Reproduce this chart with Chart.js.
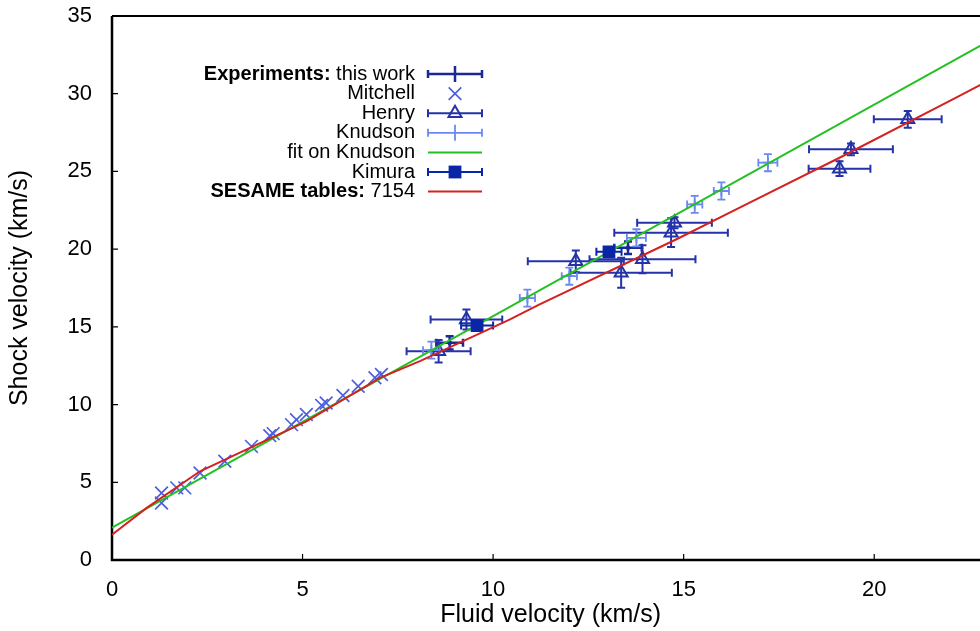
<!DOCTYPE html>
<html><head><meta charset="utf-8">
<script src="https://cdn.jsdelivr.net/npm/chart.js@4.4.1/dist/chart.umd.min.js"></script>
<style>
html,body{margin:0;padding:0;overflow:hidden;background:#fff;}
#wrap{position:relative;width:1000px;height:631px;}
</style></head><body>
<div id="wrap"><canvas id="c" width="1000" height="631"></canvas></div>
<script>
// ---- tick labels ----
const xTicks = [0, 5, 10, 15, 20];
const yTicks = [0, 5, 10, 15, 20, 25, 30, 35];
const X_MIN = 0, X_MAX = 23.02, Y_MIN = 0, Y_MAX = 35;

// ---- Experiments: this work ----
const thisWorkX = [8.86, 13.54];
const thisWorkY = [13.97, 20.09];
const thisWorkXErr = [0.35, 0.36];
const thisWorkYErr = [0.43, 0.40];

// ---- Mitchell ----
const mitchellX = [1.30, 1.30, 1.70, 1.91, 2.31, 2.96, 3.66, 4.14, 4.23, 4.71, 4.84, 5.10, 5.50, 5.62, 6.06, 6.46, 6.90, 7.07];
const mitchellY = [4.31, 3.67, 4.64, 4.64, 5.60, 6.35, 7.31, 8.00, 8.13, 8.71, 9.03, 9.36, 9.95, 10.10, 10.58, 11.18, 11.72, 11.93];

// ---- Henry ----
const henryX = [8.57, 9.30, 12.17, 13.36, 13.92, 14.67, 14.76, 19.09, 19.39, 20.88];
const henryY = [13.43, 15.47, 19.22, 18.48, 19.35, 21.06, 21.70, 25.18, 26.42, 28.35];
const henryXErr = [0.84, 0.94, 1.26, 1.33, 1.39, 1.49, 0.98, 0.81, 1.10, 0.89];
const henryYErr = [0.73, 0.64, 0.70, 0.97, 0.90, 0.92, 0.35, 0.47, 0.38, 0.54];

// ---- Knudson ----
const knudsonX = [8.38, 10.90, 12.00, 13.76, 15.29, 15.99, 17.21];
const knudsonY = [13.50, 16.85, 18.26, 20.73, 22.88, 23.74, 25.56];
const knudsonXErr = [0.22, 0.20, 0.20, 0.25, 0.20, 0.20, 0.25];
const knudsonYErr = [0.55, 0.55, 0.55, 0.55, 0.55, 0.55, 0.55];

// ---- fit on Knudson ----
const fitX = [0, 23.28];
const fitY = [2.08, 33.76];

// ---- Kimura ----
const kimuraX = [9.58, 13.04];
const kimuraY = [15.08, 19.83];
const kimuraXErr = [0.42, 0.33];
const kimuraYErr = [0.25, 0.25];

// ---- SESAME tables: 7154 ----
const sesameX = [0, 0.91, 2.31, 5.10, 7.03, 8.08, 10.43, 11.22, 14.80, 16.47, 19.09, 22.06, 23.28];
const sesameY = [1.63, 3.35, 5.71, 8.92, 11.72, 12.79, 15.47, 16.44, 20.62, 22.67, 25.88, 29.64, 31.20];

const FONT = '"Liberation Sans", Arial, Helvetica, sans-serif';
const COL = {
  work: '#1c2896', mitchell: '#4d5fe0', henry: '#2633a8', knudson: '#6b88f2',
  fit: '#22c022', kimura: '#0a26a6', sesame: '#d42222'
};

function pts(xs, ys) { return xs.map((x, i) => ({ x: x, y: ys[i] })); }

const datasets = [
  { label: 'Experiments: this work', data: pts(thisWorkX, thisWorkY), xErr: thisWorkXErr, yErr: thisWorkYErr,
    errColor: COL.work, errWidth: 2.5, kind: 'err',
    showLine: false, pointStyle: 'circle', pointRadius: 2, borderColor: COL.work, backgroundColor: COL.work, order: 7 },
  { label: 'Mitchell', data: pts(mitchellX, mitchellY), kind: 'x',
    showLine: false, pointStyle: 'crossRot', pointRadius: 9, pointBorderWidth: 1.7, borderColor: COL.mitchell, backgroundColor: COL.mitchell, order: 6 },
  { label: 'Henry', data: pts(henryX, henryY), xErr: henryXErr, yErr: henryYErr, errColor: COL.henry, errWidth: 2, kind: 'tri',
    showLine: false, pointStyle: 'triangle', pointRadius: 7.5, pointBorderWidth: 2, borderColor: COL.henry, backgroundColor: 'rgba(0,0,0,0)', order: 5 },
  { label: 'Knudson', data: pts(knudsonX, knudsonY), xErr: knudsonXErr, yErr: knudsonYErr, errColor: COL.knudson, errWidth: 1.8, kind: 'plus',
    showLine: false, pointStyle: 'cross', pointRadius: 5, pointBorderWidth: 1.8, borderColor: COL.knudson, backgroundColor: COL.knudson, order: 4 },
  { label: 'fit on Knudson', data: pts(fitX, fitY), kind: 'line',
    showLine: true, pointRadius: 0, borderWidth: 2, borderColor: COL.fit, backgroundColor: COL.fit, order: 3 },
  { label: 'Kimura', data: pts(kimuraX, kimuraY), xErr: kimuraXErr, yErr: kimuraYErr, errColor: COL.kimura, errWidth: 2, kind: 'sq',
    showLine: false, pointStyle: 'rect', pointRadius: 9, pointBorderWidth: 0, borderColor: COL.kimura, backgroundColor: COL.kimura, order: 2 },
  { label: 'SESAME tables: 7154', data: pts(sesameX, sesameY), kind: 'line',
    showLine: true, pointRadius: 0, borderWidth: 2, borderColor: COL.sesame, backgroundColor: COL.sesame, order: 1 }
];

const CAP = 4;
function drawErr(ctx, px, py, x0, x1, y0, y1, color, w) {
  ctx.save();
  ctx.strokeStyle = color; ctx.lineWidth = w; ctx.lineCap = 'butt';
  ctx.beginPath();
  ctx.moveTo(x0, py); ctx.lineTo(x1, py);
  ctx.moveTo(x0, py - CAP); ctx.lineTo(x0, py + CAP);
  ctx.moveTo(x1, py - CAP); ctx.lineTo(x1, py + CAP);
  ctx.moveTo(px, y0); ctx.lineTo(px, y1);
  ctx.moveTo(px - CAP, y0); ctx.lineTo(px + CAP, y0);
  ctx.moveTo(px - CAP, y1); ctx.lineTo(px + CAP, y1);
  ctx.stroke();
  ctx.restore();
}

const custom = {
  id: 'custom',
  beforeDatasetsDraw(chart) {
    const { ctx, chartArea: a, scales: { x, y } } = chart;
    ctx.save();
    ctx.strokeStyle = '#000';
    ctx.lineWidth = 2.5;
    ctx.beginPath();
    ctx.moveTo(a.left, a.top); ctx.lineTo(a.left, a.bottom); ctx.lineTo(a.right + 20, a.bottom);
    ctx.stroke();
    ctx.lineWidth = 2;
    ctx.beginPath();
    ctx.moveTo(a.left, a.top); ctx.lineTo(a.right + 20, a.top);
    ctx.stroke();
    ctx.lineWidth = 1.2;
    ctx.beginPath();
    yTicks.forEach(v => {
      const p = y.getPixelForValue(v);
      if (v > Y_MIN && v < Y_MAX) { ctx.moveTo(a.left, p); ctx.lineTo(a.left + 6, p); }
    });
    xTicks.forEach(v => {
      const p = x.getPixelForValue(v);
      if (v > X_MIN) { ctx.moveTo(p, a.bottom); ctx.lineTo(p, a.bottom - 6); }
    });
    ctx.stroke();
    ctx.restore();
  },
  beforeDatasetDraw(chart, args) {
    const ds = chart.data.datasets[args.index];
    if (!ds.xErr) return;
    const { ctx, scales: { x, y } } = chart;
    ds.data.forEach((d, i) => {
      const px = x.getPixelForValue(d.x), py = y.getPixelForValue(d.y);
      drawErr(ctx, px, py,
        x.getPixelForValue(d.x - ds.xErr[i]), x.getPixelForValue(d.x + ds.xErr[i]),
        y.getPixelForValue(d.y - ds.yErr[i]), y.getPixelForValue(d.y + ds.yErr[i]),
        ds.errColor, ds.errWidth);
    });
  },
  afterDraw(chart) {
    const ctx = chart.ctx;
    const right = 415, s0 = 428, s1 = 482, sc = 455, top = 74, step = 19.6;
    ctx.save();
    ctx.textBaseline = 'middle';
    ctx.textAlign = 'right';
    chart.data.datasets.forEach((ds, i) => {
      const yy = top + i * step;
      const idx = ds.label.indexOf(': ');
      let bold = '', norm = ds.label;
      if (idx >= 0) { bold = ds.label.slice(0, idx + 1); norm = ds.label.slice(idx + 1); }
      ctx.fillStyle = '#000';
      ctx.font = '20px ' + FONT;
      ctx.fillText(norm, right, yy);
      const w = ctx.measureText(norm).width;
      if (bold) { ctx.font = 'bold 20px ' + FONT; ctx.fillText(bold, right - w, yy); }
      const c = ds.errColor || ds.borderColor;
      if (ds.kind === 'line') {
        ctx.strokeStyle = ds.borderColor; ctx.lineWidth = 2;
        ctx.beginPath(); ctx.moveTo(s0, yy); ctx.lineTo(s1, yy); ctx.stroke();
      } else if (ds.kind === 'x') {
        ctx.strokeStyle = ds.borderColor; ctx.lineWidth = 1.7;
        ctx.beginPath();
        ctx.moveTo(sc - 6.3, yy - 6.3); ctx.lineTo(sc + 6.3, yy + 6.3);
        ctx.moveTo(sc - 6.3, yy + 6.3); ctx.lineTo(sc + 6.3, yy - 6.3);
        ctx.stroke();
      } else {
        const vy = (ds.kind === 'err' || ds.kind === 'plus') ? 8 : 0;
        ctx.strokeStyle = c; ctx.lineWidth = ds.errWidth;
        ctx.beginPath();
        ctx.moveTo(s0, yy); ctx.lineTo(s1, yy);
        ctx.moveTo(s0, yy - CAP); ctx.lineTo(s0, yy + CAP);
        ctx.moveTo(s1, yy - CAP); ctx.lineTo(s1, yy + CAP);
        if (vy) { ctx.moveTo(sc, yy - vy); ctx.lineTo(sc, yy + vy); }
        ctx.stroke();
        if (ds.kind === 'tri') {
          const r = 7.5;
          ctx.lineWidth = 2;
          ctx.beginPath();
          ctx.moveTo(sc, yy - r);
          ctx.lineTo(sc + r * Math.sin(2 * Math.PI / 3), yy - r * Math.cos(2 * Math.PI / 3));
          ctx.lineTo(sc + r * Math.sin(4 * Math.PI / 3), yy - r * Math.cos(4 * Math.PI / 3));
          ctx.closePath(); ctx.stroke();
        } else if (ds.kind === 'sq') {
          ctx.fillStyle = c;
          ctx.fillRect(sc - 6.4, yy - 6.4, 12.8, 12.8);
        }
      }
    });
    ctx.restore();
  }
};

new Chart(document.getElementById('c'), {
  type: 'scatter',
  data: { datasets: datasets },
  options: {
    responsive: false, animation: false, devicePixelRatio: 1,
    events: [],
    layout: { padding: { top: 16, right: 0, left: 0, bottom: 0 } },
    plugins: { legend: { display: false }, tooltip: { enabled: false } },
    scales: {
      x: {
        type: 'linear', min: X_MIN, max: X_MAX,
        afterBuildTicks: s => { s.ticks = xTicks.map(v => ({ value: v })); },
        afterFit: s => { s.height = 71; s.paddingLeft = 0; s.paddingRight = 0; },
        grid: { display: false }, border: { display: false },
        ticks: { color: '#000', font: { family: FONT, size: 22 }, padding: 9, maxRotation: 0 },
        title: { display: true, text: 'Fluid velocity (km/s)', color: '#000', font: { family: FONT, size: 25 }, padding: { top: 0, bottom: 1 } }
      },
      y: {
        type: 'linear', min: Y_MIN, max: Y_MAX,
        afterBuildTicks: s => { s.ticks = yTicks.map(v => ({ value: v })); },
        afterFit: s => { s.width = 112; s.paddingTop = 0; s.paddingBottom = 0; },
        grid: { display: false }, border: { display: false },
        ticks: { color: '#000', font: { family: FONT, size: 22 }, padding: 12 },
        title: { display: true, text: 'Shock velocity (km/s)', color: '#000', font: { family: FONT, size: 25 }, padding: { top: 5, bottom: 0 } }
      }
    }
  },
  plugins: [custom]
});
</script>
</body></html>
